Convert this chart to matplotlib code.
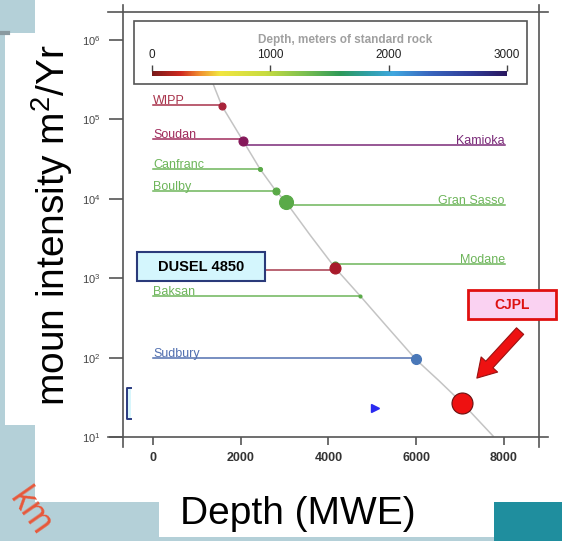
import matplotlib
matplotlib.use("Agg")
from matplotlib import pyplot as plt
from matplotlib.patches import Rectangle
from matplotlib.colors import LinearSegmentedColormap
from matplotlib.transforms import offset_copy
import numpy as np

plt.rcParams['font.family'] = ['Liberation Sans', 'DejaVu Sans']
plt.rcParams['mathtext.default'] = 'regular'

W, H = 562, 541

# grey depth-intensity line
curve_depth = [1370, 1570, 2050, 2440, 2800, 3030, 3580, 4150, 4720, 5360, 5990, 6520, 7040, 7750]
curve_intensity = [2.8e5, 1.48e5, 5.4e4, 2.37e4, 1.26e4, 9.1e3, 3.5e3, 1.35e3, 6.0e2, 2.36e2, 9.5e1, 5.1e1, 2.7e1, 1.03e1]

# labs with the name on the left, leader line from 0 to the lab
left_sites = ['WIPP', 'Soudan', 'Canfranc', 'Boulby', 'Baksan', 'Sudbury']
left_depth = [1573, 2051, 2439, 2803, 4718, 5994]
left_level = [1.52e5, 5.66e4, 2.37e4, 1.25e4, 5.97e2, 9.9e1]
left_colors = ['#a8324a', '#a02c5c', '#6db55a', '#6db55a', '#6db55a', '#5270b0']

# labs with the name on the right, leader line from the lab to 8000
right_sites = ['Kamioka', 'Gran Sasso', 'Modane']
right_depth = [2051, 3031, 4148]
right_level = [4.76e4, 8.36e3, 1.51e3]
right_colors = ['#7a2a78', '#6db55a', '#6db55a']
right_end = 8020

# dots on the curve
dot_depth = [1573, 2051, 2439, 2803, 3031, 4148, 4148, 4718, 5994, 7043]
dot_intensity = [1.48e5, 5.4e4, 2.37e4, 1.26e4, 9.1e3, 1.45e3, 1.35e3, 6.0e2, 9.5e1, 2.7e1]
dot_size = [7, 9, 4, 7, 14, 7, 11, 3, 10, 21]
dot_colors = ['#a8233a', '#85185a', '#5aaa48', '#5aaa48', '#5aaa48', '#4aa040',
              '#a81a2a', '#5aaa48', '#4a78b8', '#ee1111']

dusel_depth = [2553, 4148]
dusel_level = [1.27e3, 1.27e3]

triangle_depth = [5060]
triangle_intensity = [23]

x_ticks = [0, 2000, 4000, 6000, 8000]
y_ticks = [1e1, 1e2, 1e3, 1e4, 1e5, 1e6]
y_ticklabels = ['$10^{1}$', '$10^{2}$', '$10^{3}$', '$10^{4}$', '$10^{5}$', '$10^{6}$']
cbar_ticks = [0, 1000, 2000, 3000]
cbar_colors = [(0.0, '#7a1a1a'), (0.08, '#d02a20'), (0.13, '#f08a30'), (0.19, '#f2e640'),
               (0.32, '#c8dc40'), (0.43, '#7cc050'), (0.53, '#2e9a58'), (0.61, '#30a0a8'),
               (0.68, '#40a8e0'), (0.78, '#3a68c0'), (0.9, '#303c98'), (1.0, '#2a1860')]


def px_axes(fig, x0, y0, x1, y1):
    return fig.add_axes([x0 / W, 1 - y1 / H, (x1 - x0) / W, (y1 - y0) / H])


fig = plt.figure(figsize=(W / 100, H / 100), dpi=100)
fig.patch.set_facecolor('#b4d0d8')

# slide background
bg = fig.add_axes([0, 0, 1, 1], zorder=0)
bg.set_xlim(0, W)
bg.set_ylim(H, 0)
bg.axis('off')
bg.add_patch(Rectangle((5, 33), 105, 392, color='white', lw=0))
bg.add_patch(Rectangle((35, 0), 527, 502, color='white', lw=0))
bg.add_patch(Rectangle((159, 485), 335, 52, color='white', lw=0))
bg.add_patch(Rectangle((494, 502), 68, 39, color='#1f8e9e', lw=0))
bg.plot([0, 8], [33, 33], color='#8a9aa0', lw=3)
bg.text(30, 512, 'km', rotation=-55, color='#e8583a', fontsize=26,
        ha='center', va='center')

# main chart
ax = px_axes(fig, 123, 12, 539, 437)
ax.set_zorder(1)
ax.patch.set_visible(False)
ax.set_yscale('log')
ax.set_xlim(-684, 8798)
ax.set_ylim(10, 10 ** 6.353)
for s in ax.spines.values():
    s.set_visible(False)

frame = dict(color='#555555', lw=1.2, transform=ax.transAxes, clip_on=False, zorder=3)
ax.plot([-0.036, 1.022], [0, 0], **frame)
ax.plot([-0.036, 1.022], [1, 1], **frame)
ax.plot([0, 0], [-0.024, 1.017], **frame)
ax.plot([1, 1], [-0.024, 1.017], **frame)

ax.set_xticks(x_ticks)
ax.set_xticklabels([str(v) for v in x_ticks], fontweight='bold')
ax.set_yticks(y_ticks)
ax.set_yticklabels(y_ticklabels)
ax.minorticks_off()
ax.tick_params(axis='x', direction='out', length=5.5, width=1.2, color='#555555',
               pad=5, labelsize=9, labelcolor='#333333')
ax.tick_params(axis='y', direction='out', length=10, width=1.2, color='#555555',
               pad=6, labelsize=8, labelcolor='#444444')

ax.plot(curve_depth, curve_intensity, color='#c4c4c4', lw=1.1, zorder=2)

# leader lines and labels
lift = offset_copy(ax.transData, fig=fig, x=0, y=1, units='points')
for name, d, lv, c in zip(left_sites, left_depth, left_level, left_colors):
    ax.plot([0, d], [lv, lv], color=c, lw=1.1, zorder=2)
    ax.text(0, lv, name, color=c, fontsize=9, ha='left', va='baseline', transform=lift)
for name, d, lv, c in zip(right_sites, right_depth, right_level, right_colors):
    ax.plot([d, right_end], [lv, lv], color=c, lw=1.1, zorder=2)
    ax.text(right_end, lv, name, color=c, fontsize=9, ha='right', va='baseline',
            transform=lift)
ax.plot(dusel_depth, dusel_level, color='#b45868', lw=1.3, zorder=2)

for d, v, sz, c in zip(dot_depth, dot_intensity, dot_size, dot_colors):
    ec = '#661010' if c == '#ee1111' else c
    ax.plot(d, v, 'o', ms=sz * 0.72, color=c, mec=ec, mew=0.8, zorder=4)

ax.plot(triangle_depth, triangle_intensity, '>', ms=6, color='#2a2af0', zorder=4)

# bracket piece on the left
ax.plot([-501, -593, -593, -501], [41.4, 41.4, 16.9, 16.9], color='#2a3a80', lw=1.4,
        zorder=4)
ax.add_patch(Rectangle((-593, 16.9), 92, 24.5, fc='#d8f6fc', lw=0, zorder=3))

# DUSEL label box
ax.add_patch(Rectangle((-365, 922), 2918, 1218, fc='#d4f6fd', ec='#2a3a7a', lw=1.5,
                       zorder=5, clip_on=False))
ax.text(1094, 1403, 'DUSEL 4850', fontsize=10.5, fontweight='bold', ha='center',
        va='center', zorder=6)

# CJPL label box and arrow
ax.add_patch(Rectangle((7179, 306), 2006, 404, fc='#fad2f2', ec='#e01010', lw=2,
                       zorder=5, clip_on=False))
ax.text(8182, 466, 'CJPL', fontsize=10, fontweight='bold', color='#dd1111',
        ha='center', va='center', zorder=6, clip_on=False)
ax.annotate('', xy=(7339, 52), xytext=(8410, 229), annotation_clip=False,
            arrowprops=dict(arrowstyle='simple,head_width=1.15,head_length=0.95,tail_width=0.5',
                            mutation_scale=14, fc='#ee1111', ec='#991111', lw=0.8),
            zorder=6)

# colour scale box
ax.add_patch(Rectangle((0.0264, 0.8306), 0.945, 0.148, transform=ax.transAxes,
                       fc='white', ec='#555555', lw=1.2, zorder=5))
fig.text(345 / W, 1 - 40 / H, 'Depth, meters of standard rock', color='#a0a0a0',
         fontsize=8.5, fontweight='bold', ha='center', va='center', zorder=10)

cmap = LinearSegmentedColormap.from_list('depth', cbar_colors)
cax = px_axes(fig, 152, 71, 507, 76)
cax.set_zorder(3)
cax.imshow(np.linspace(0, 1, 256)[None, :], cmap=cmap, aspect='auto',
           extent=[0, 3000, 0, 1])
cax.set_xlim(0, 3000)
cax.set_yticks([])
for s in cax.spines.values():
    s.set_visible(False)
cax.xaxis.set_ticks_position('top')
cax.set_xticks(cbar_ticks)
cax.set_xticklabels([str(v) for v in cbar_ticks])
cax.tick_params(axis='x', direction='out', length=4, width=1, color='#444444',
                pad=3, labelsize=8.5, labelcolor='#222222')

# axis titles on the slide
fig.text(52 / W, 1 - 225 / H, 'moun intensity m$^2$/Yr', rotation=90, fontsize=28,
         ha='center', va='center')
fig.text(298 / W, 1 - 524 / H, 'Depth (MWE)', fontsize=28, ha='center', va='baseline')

fig.savefig('out.png', dpi=100)
